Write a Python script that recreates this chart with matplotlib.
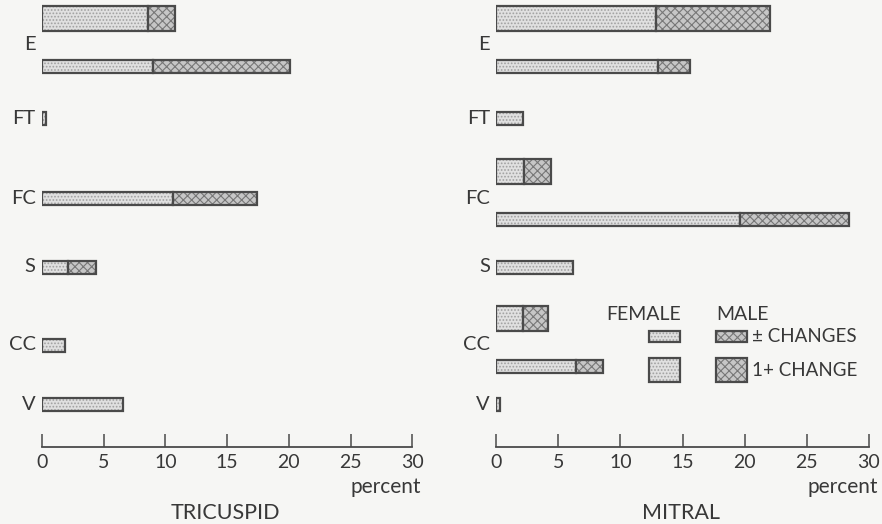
import matplotlib
matplotlib.use('Agg')
from matplotlib import pyplot as plt
from matplotlib.patches import Rectangle

# categories, top to bottom
categories = ['E', 'FT', 'FC', 'S', 'CC', 'V']

# percent values
# "1+ change" bars (thick) and "± changes" bars (thin), split female / male
tricuspid_female_1plus = [8.6, 0, 0, 0, 0, 0]
tricuspid_male_1plus = [2.2, 0, 0, 0, 0, 0]
tricuspid_female_pm = [9.0, 0.35, 10.6, 2.15, 1.9, 6.6]
tricuspid_male_pm = [11.1, 0, 6.8, 2.25, 0, 0]

mitral_female_1plus = [12.85, 0, 2.25, 0, 2.15, 0]
mitral_male_1plus = [9.15, 0, 2.15, 0, 2.05, 0]
mitral_female_pm = [13.05, 2.2, 19.6, 6.2, 6.4, 0.35]
mitral_male_pm = [2.55, 0, 8.8, 0, 2.2, 0]

x_ticks = [0, 5, 10, 15, 20, 25, 30]

W, H = 882, 524
BG = '#f6f6f4'
INK = '#383838'
EDGE = '#4a4a4a'

plt.rcParams['font.family'] = ['Lato', 'DejaVu Sans']
plt.rcParams['hatch.linewidth'] = 0.8

# row centres in pixels (y axis runs in figure pixels, downwards)
row_y = [45, 118, 198, 267, 345, 404]
THICK_H, THIN_H = 25, 13
THICK_OFF, THIN_OFF = -27, 21


def fill_segment(ax, y, left, width, height, male):
    if width <= 0:
        return
    if male:
        ax.barh(y, width, height, left=left, color='#c6c6c6', hatch='xxxx',
                edgecolor='#777777', linewidth=0)
    else:
        ax.barh(y, width, height, left=left, color='#e0e0e0', hatch='.....',
                edgecolor='#a0a0a0', linewidth=0)
    ax.barh(y, width, height, left=left, fill=False, edgecolor=EDGE, linewidth=1.6)


def draw_bar(ax, y, height, female, male):
    fill_segment(ax, y, 0, female, height, male=False)
    fill_segment(ax, y, female, male, height, male=True)


def draw_panel(ax, f1, m1, fpm, mpm, title):
    for i, cat in enumerate(categories):
        has_thick = f1[i] + m1[i] > 0
        has_thin = fpm[i] + mpm[i] > 0
        if has_thick and has_thin:
            draw_bar(ax, row_y[i] + THICK_OFF, THICK_H, f1[i], m1[i])
            draw_bar(ax, row_y[i] + THIN_OFF, THIN_H, fpm[i], mpm[i])
        elif has_thick:
            draw_bar(ax, row_y[i], THICK_H, f1[i], m1[i])
        else:
            draw_bar(ax, row_y[i], THIN_H, fpm[i], mpm[i])
        ax.text(-0.5, row_y[i], cat, ha='right', va='center', fontsize=14.5, color=INK)

    ax.set_xlim(0, 30)
    ax.set_ylim(H, 0)
    ax.set_facecolor('none')
    for s in ['top', 'right', 'left']:
        ax.spines[s].set_visible(False)
    ax.spines['bottom'].set_position(('data', 447))
    ax.spines['bottom'].set_color(EDGE)
    ax.spines['bottom'].set_linewidth(1.3)
    ax.set_yticks([])
    ax.set_xticks(x_ticks)
    ax.set_xticklabels([str(t) for t in x_ticks])
    ax.tick_params(axis='x', direction='in', length=9.5, width=1.1, color=EDGE,
                   pad=5, labelsize=14, labelcolor=INK)
    ax.text(30.7, 487, 'percent', ha='right', va='center', fontsize=15, color=INK)
    ax.text(14.9, 513, title, ha='center', va='center', fontsize=15.5, color=INK)


fig = plt.figure(figsize=(W / 100, H / 100), dpi=100, facecolor=BG)

ax_t = fig.add_axes([41.7 / W, 0, 370.8 / W, 1])
draw_panel(ax_t, tricuspid_female_1plus, tricuspid_male_1plus,
           tricuspid_female_pm, tricuspid_male_pm, 'TRICUSPID')

ax_m = fig.add_axes([496 / W, 0, 373 / W, 1])
draw_panel(ax_m, mitral_female_1plus, mitral_male_1plus,
           mitral_female_pm, mitral_male_pm, 'MITRAL')

# legend, drawn in an overlay in pixel coords
ov = fig.add_axes([0, 0, 1, 1])
ov.set_xlim(0, W)
ov.set_ylim(H, 0)
ov.axis('off')


def legend_box(x, y, w, h, male):
    if male:
        ov.add_patch(Rectangle((x, y), w, h, facecolor='#c6c6c6', hatch='xxxx',
                               edgecolor='#777777', linewidth=0))
    else:
        ov.add_patch(Rectangle((x, y), w, h, facecolor='#e0e0e0', hatch='.....',
                               edgecolor='#a0a0a0', linewidth=0))
    ov.add_patch(Rectangle((x, y), w, h, fill=False, edgecolor=EDGE, linewidth=1.6))


ov.text(644, 315, 'FEMALE', ha='center', va='center', fontsize=14, color=INK)
ov.text(716, 315, 'MALE', ha='left', va='center', fontsize=14, color=INK)
legend_box(649, 331, 31, 11, male=False)
legend_box(716, 331, 31, 11, male=True)
ov.text(752, 337, '± CHANGES', ha='left', va='center', fontsize=13.5, color=INK)
legend_box(649, 358, 31, 24, male=False)
legend_box(716, 358, 31, 24, male=True)
ov.text(752, 370, '1+ CHANGE', ha='left', va='center', fontsize=13.5, color=INK)

fig.savefig('out.png', dpi=100, facecolor=BG)
